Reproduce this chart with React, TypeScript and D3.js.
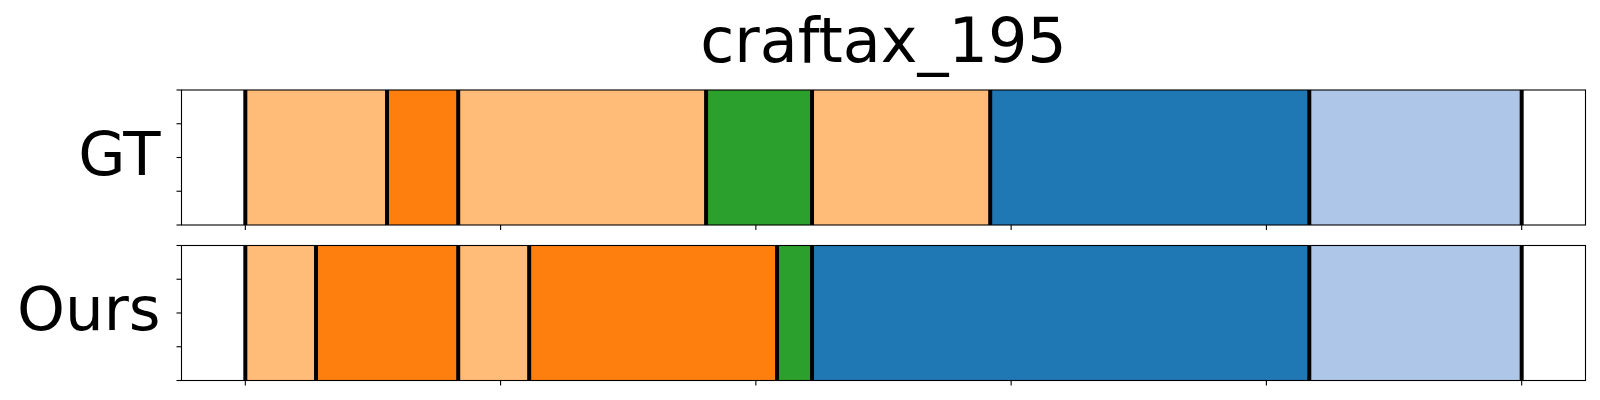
import React from "react";
import * as d3 from "d3";

const WIDTH = 1600;
const HEIGHT = 400;
const margin = { left: 181.5, right: 14.5 };

// segment boundaries (frames) and the class of each segment between them
const gtBounds = [0, 55.5, 83.4, 180.5, 222, 291.8, 416.8, 500];
const gtClasses = ["prep", "mine", "prep", "craft", "prep", "build", "finish"];
const oursBounds = [0, 27.7, 83.4, 111.2, 208.3, 222, 416.8, 500];
const oursClasses = ["prep", "mine", "prep", "mine", "craft", "build", "finish"];

const classNames = ["prep", "mine", "craft", "build", "finish"];
const classColors = ["#ffbb78", "#ff7f0e", "#2ca02c", "#1f77b4", "#aec7e8"];

const xTicks = [0, 100, 200, 300, 400, 500];
const yTicks = [0, 0.25, 0.5, 0.75, 1];

const rows = [
  { label: "GT", bounds: gtBounds, classes: gtClasses, top: 90 },
  { label: "Ours", bounds: oursBounds, classes: oursClasses, top: 245.5 },
];
const ROW_H = 135;
const FONT = "DejaVu Sans, sans-serif";

const color = d3.scaleOrdinal<string, string>().domain(classNames).range(classColors);

// matplotlib default 5% margin on each side
const xScale = d3
  .scaleLinear()
  .domain([-25, 525])
  .range([margin.left, WIDTH - margin.right]);

function Row({ row }: { row: (typeof rows)[number] }) {
  const yScale = d3.scaleLinear().domain([0, 1]).range([row.top + ROW_H, row.top]);
  const segs = row.classes.map((c, i) => ({
    x0: row.bounds[i],
    x1: row.bounds[i + 1],
    cls: c,
  }));
  const x0 = xScale.range()[0];
  const x1 = xScale.range()[1];

  return (
    <g>
      {segs.map((s, i) => (
        <rect
          key={i}
          x={xScale(s.x0)}
          y={yScale(1)}
          width={xScale(s.x1) - xScale(s.x0)}
          height={yScale(0) - yScale(1)}
          fill={color(s.cls)}
        />
      ))}
      {row.bounds.map((b, i) => (
        <line
          key={i}
          x1={xScale(b)}
          x2={xScale(b)}
          y1={yScale(0)}
          y2={yScale(1)}
          stroke="#000"
          strokeWidth={4}
        />
      ))}
      <rect
        x={x0}
        y={yScale(1)}
        width={x1 - x0}
        height={ROW_H}
        fill="none"
        stroke="#000"
        strokeWidth={1.1}
      />
      {yTicks.map((t) => (
        <line key={t} x1={x0 - 5} x2={x0} y1={yScale(t)} y2={yScale(t)} stroke="#000" strokeWidth={1.1} />
      ))}
      {xTicks.map((t) => (
        <line
          key={t}
          x1={xScale(t)}
          x2={xScale(t)}
          y1={yScale(0)}
          y2={yScale(0) + 5}
          stroke="#000"
          strokeWidth={1.1}
        />
      ))}
      <text
        x={160.5}
        y={row.top + ROW_H / 2 + 17}
        textAnchor="end"
        fontFamily={FONT}
        fontSize={61}
        fill="#000"
      >
        {row.label}
      </text>
    </g>
  );
}

export default function App() {
  return (
    <svg
      width={WIDTH}
      height={HEIGHT}
      style={{ position: "absolute", left: 0, top: 0, background: "#fff" }}
    >
      <rect width={WIDTH} height={HEIGHT} fill="#fff" />
      <text
        x={(xScale.range()[0] + xScale.range()[1]) / 2}
        y={62}
        textAnchor="middle"
        fontFamily={FONT}
        fontSize={62}
        fill="#000"
      >
        craftax_195
      </text>
      {rows.map((r) => (
        <Row key={r.label} row={r} />
      ))}
    </svg>
  );
}
